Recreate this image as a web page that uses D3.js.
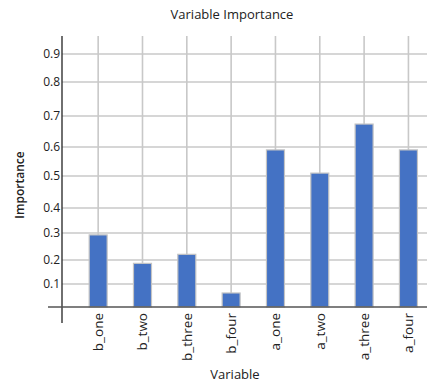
<!DOCTYPE html>
<html>
<head>
<meta charset="utf-8">
<script src="https://cdn.jsdelivr.net/npm/d3@7"></script>
<style>
	body { margin: 0; background: #fff; }
	svg { display: block; font-family: "Open Sans", sans-serif; }
</style>
</head>
<body>
<div id="chart"></div>
<script>
// 数据
var variables = ["b_one", "b_two", "b_three", "b_four", "a_one", "a_two", "a_three", "a_four"];
var importance = [0.293, 0.186, 0.221, 0.061, 0.59, 0.51, 0.674, 0.59];
var yTicks = [0.1, 0.2, 0.3, 0.4, 0.5, 0.6, 0.7, 0.8, 0.9];

var width = 430, height = 390;

var svg = d3.select("#chart").append("svg")
	.attr("width", width)
	.attr("height", height);

var x = d3.scaleBand()
	.domain(variables)
	.range([76, 430.6])
	.paddingInner(0)
	.paddingOuter(0);

// 纵轴刻度间距不均匀，按原图分段
var y = d3.scaleLinear()
	.domain([0, 0.1, 0.2, 0.3, 0.4, 0.5, 0.6, 0.7, 0.8, 0.9])
	.range([307, 284, 260, 233, 208, 176, 147, 116, 82, 54]);

var axisX = 62, gridRight = 427, plotTop = 36;
var barWidth = 18;

// 网格
svg.append("g").selectAll("line.h")
	.data(yTicks)
	.enter().append("line")
	.attr("x1", axisX).attr("x2", gridRight)
	.attr("y1", function(d){ return y(d); })
	.attr("y2", function(d){ return y(d); })
	.attr("stroke", "#c8c8c8")
	.attr("stroke-width", 1.6);

svg.append("g").selectAll("line.v")
	.data(variables)
	.enter().append("line")
	.attr("x1", function(d){ return x(d) + x.bandwidth() / 2; })
	.attr("x2", function(d){ return x(d) + x.bandwidth() / 2; })
	.attr("y1", plotTop).attr("y2", y(0))
	.attr("stroke", "#c8c8c8")
	.attr("stroke-width", 1.6);

// 柱子
svg.append("g").selectAll("rect")
	.data(variables)
	.enter().append("rect")
	.attr("x", function(d){ return x(d) + x.bandwidth() / 2 - barWidth / 2; })
	.attr("width", barWidth)
	.attr("y", function(d, i){ return y(importance[i]); })
	.attr("height", function(d, i){ return y(0) - y(importance[i]); })
	.attr("fill", "#4472C4")
	.attr("stroke", "#c4c4c4")
	.attr("stroke-width", 1.2);

// 纵轴
var yAxis = svg.append("g")
	.attr("transform", "translate(" + axisX + ",0)")
	.call(d3.axisLeft(y).tickValues(yTicks).tickSize(0).tickPadding(2).tickFormat(d3.format(".1f")));
yAxis.select(".domain").remove();
yAxis.selectAll("text")
	.attr("font-size", 12)
	.attr("font-family", "Open Sans")
	.attr("fill", "#222");

svg.append("line")
	.attr("x1", axisX).attr("x2", axisX)
	.attr("y1", plotTop).attr("y2", 323)
	.attr("stroke", "#222")
	.attr("stroke-width", 1.3);

svg.append("line")
	.attr("x1", 48).attr("x2", gridRight)
	.attr("y1", y(0)).attr("y2", y(0))
	.attr("stroke", "#555")
	.attr("stroke-width", 1.3);

// 横轴标签
var xAxis = svg.append("g")
	.attr("transform", "translate(0," + y(0) + ")")
	.call(d3.axisBottom(x).tickSize(0).tickPadding(0));
xAxis.select(".domain").remove();
xAxis.selectAll("text")
	.attr("transform", "rotate(-90)")
	.attr("x", -6)
	.attr("y", 0)
	.attr("dy", "0.35em")
	.attr("text-anchor", "end")
	.attr("font-size", 13.5)
	.attr("font-family", "Open Sans")
	.attr("fill", "#222");

// 标题
svg.append("text")
	.attr("x", 232).attr("y", 19)
	.attr("text-anchor", "middle")
	.attr("font-size", 13)
	.attr("fill", "#222")
	.text("Variable Importance");

svg.append("text")
	.attr("x", 235).attr("y", 379)
	.attr("text-anchor", "middle")
	.attr("font-size", 13)
	.attr("fill", "#222")
	.text("Variable");

svg.append("text")
	.attr("transform", "translate(24,185) rotate(-90)")
	.attr("text-anchor", "middle")
	.attr("font-size", 12)
	.attr("font-weight", 600)
	.attr("fill", "#222")
	.text("Importance");
</script>
</body>
</html>
